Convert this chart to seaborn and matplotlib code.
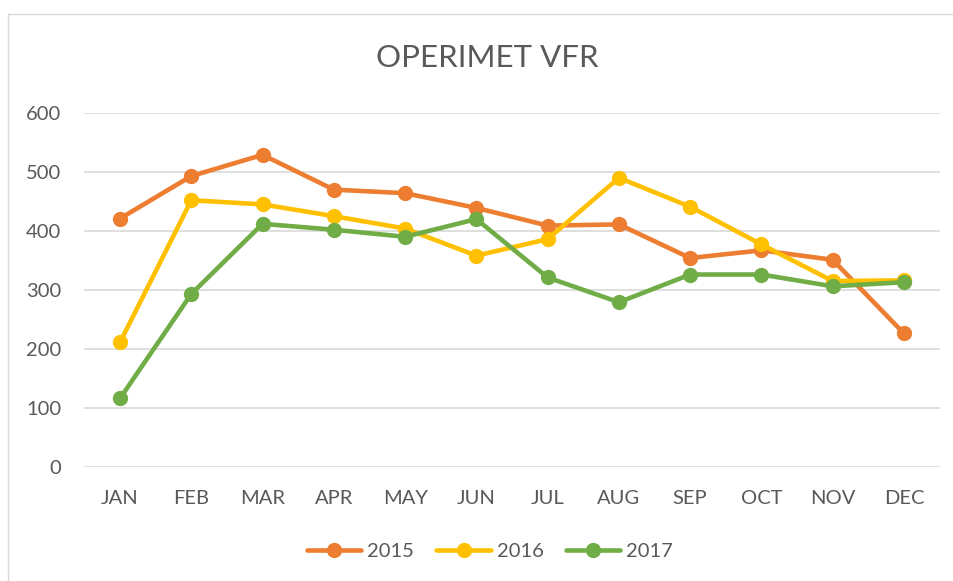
import matplotlib
matplotlib.use("Agg")
import matplotlib.pyplot as plt
import seaborn as sns
import pandas as pd
from matplotlib.lines import Line2D

months = ["JAN", "FEB", "MAR", "APR", "MAY", "JUN", "JUL", "AUG", "SEP", "OCT", "NOV", "DEC"]
v2015 = [421, 493, 529, 470, 464, 439, 409, 411, 354, 367, 351, 226]
v2016 = [211, 452, 445, 425, 404, 358, 386, 490, 441, 377, 315, 316]
v2017 = [116, 293, 412, 402, 390, 420, 321, 279, 326, 326, 306, 313]
years = ["2015", "2016", "2017"]
colors = ["#ED7D31", "#FFC000", "#70AD47"]
title = "OPERIMET VFR"

sns.set_theme(style="white")
plt.rcParams["font.family"] = ["Lato", "DejaVu Sans"]

df = pd.DataFrame({
    "month": months * 3,
    "value": v2015 + v2016 + v2017,
    "year": sum([[y] * len(months) for y in years], []),
})

W, H = 954, 581
fig = plt.figure(figsize=(W / 100, H / 100), dpi=100)
ax = fig.add_axes([84.4 / W, 1 - 466.7 / H, (939.6 - 84.4) / W, (466.7 - 113) / H])

sns.lineplot(data=df, x="month", y="value", hue="year", palette=colors,
             marker="o", markersize=11, markeredgewidth=0, linewidth=3.3,
             sort=False, ax=ax, legend=False)

ax.set_xlim(-0.5, 11.5)
ax.set_ylim(0, 600)
ax.set_yticks(range(0, 601, 100))
ax.grid(axis="y", color="#D9D9D9", linewidth=1.2)
ax.grid(axis="x", visible=False)
ax.set_axisbelow(True)
for s in ax.spines.values():
    s.set_visible(False)
ax.set_xlabel("")
ax.set_ylabel("")
ax.tick_params(axis="y", length=0, pad=16.5, labelsize=14.5, labelcolor="#595959")
ax.tick_params(axis="x", length=0, pad=16.5, labelsize=14.5, labelcolor="#595959")

fig.text(487 / W, 1 - 58 / H, title, ha="center", va="center",
         fontsize=22.5, color="#595959")

handles = [Line2D([], [], color=c, linewidth=3.3, marker="o", markersize=11,
                  markeredgewidth=0) for c in colors]
fig.legend(handles, years, loc="center", bbox_to_anchor=(490 / W, 1 - 551 / H),
           ncol=3, frameon=False, fontsize=14.5, labelcolor="#595959",
           handlelength=2.7, handletextpad=0.3, columnspacing=1.1)

# outer chart border (left and top visible)
fig.add_artist(Line2D([8 / W, 8 / W], [0, 1 - 14 / H], transform=fig.transFigure,
                      color="#D9D9D9", linewidth=1.0))
fig.add_artist(Line2D([8 / W, 1], [1 - 14 / H, 1 - 14 / H], transform=fig.transFigure,
                      color="#D9D9D9", linewidth=1.0))

fig.savefig("out.png", dpi=100)
